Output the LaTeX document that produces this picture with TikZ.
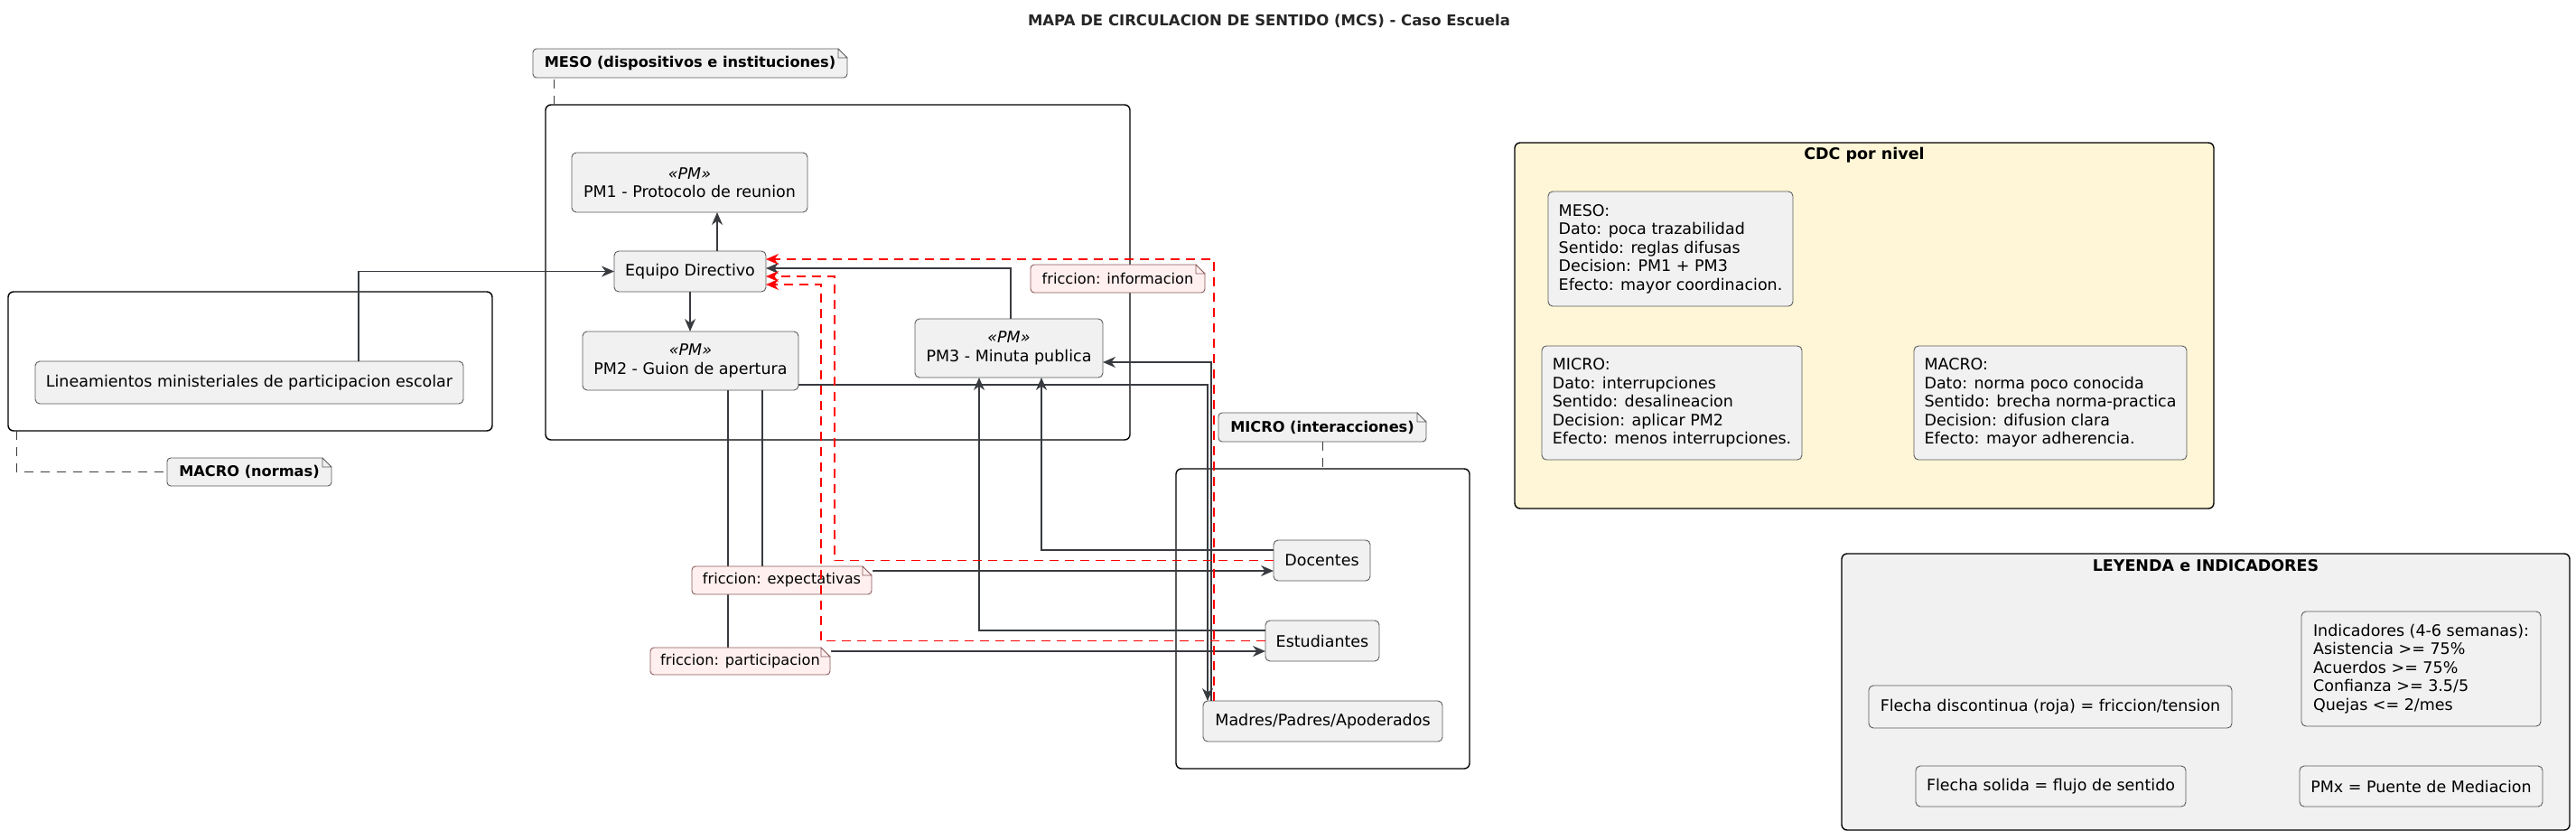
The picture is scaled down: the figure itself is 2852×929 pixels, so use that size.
\documentclass[tikz,border=0pt]{standalone}
\usepackage{fontspec}
\setmainfont{DejaVu Sans}
\usetikzlibrary{arrows.meta}

\definecolor{boxfill}{HTML}{F1F1F1}
\definecolor{boxline}{HTML}{5A5A5A}
\definecolor{flowcol}{HTML}{383B3F}
\definecolor{fricfill}{HTML}{FFEFEF}
\definecolor{fricline}{HTML}{8A5858}
\definecolor{cdcfill}{HTML}{FEF6D6}
\definecolor{titlecol}{HTML}{262626}

\newcommand{\mcsfont}{\fontsize{17.5}{20.5}\selectfont}
\newcommand{\mcsnotefont}{\fontsize{16.2}{19}\selectfont}

\tikzset{
  elem/.style={draw=boxline,fill=boxfill,line width=0.9pt,rounded corners=5pt,
    align=center,font=\mcsfont,outer sep=0pt},
  pkg/.style={draw=black,line width=1.4pt,rounded corners=6pt,outer sep=0pt},
  lvlnote/.style={draw=boxline,fill=boxfill,line width=0.9pt,rounded corners=4pt,
    font=\mcsnotefont\bfseries,outer sep=0pt},
  fricnote/.style={draw=fricline,fill=fricfill,line width=0.9pt,rounded corners=4pt,
    font=\mcsnotefont,outer sep=0pt},
  flow/.style={->,draw=flowcol,line width=1.5pt},
  friction/.style={->,draw=red,line width=1.5pt,dash pattern=on 10pt off 7pt},
  notelink/.style={draw=flowcol,line width=1pt,dash pattern=on 10pt off 8pt},
  grptitle/.style={font=\mcsfont\bfseries}
}

\begin{document}
\begin{tikzpicture}[x=1pt,y=-1pt,>={Stealth[length=14pt,width=12pt,inset=4.5pt]}]
\useasboundingbox (0,0) rectangle (2852,929);

\node[font=\fontsize{16.5}{20}\selectfont\bfseries,text=titlecol] (TITLE) at (1405,23)
  {MAPA DE CIRCULACION DE SENTIDO (MCS) - Caso Escuela};

% niveles
\node[pkg,minimum width=647pt,minimum height=371pt] (PMESO)  at (927.5,301.5) {};
\node[pkg,minimum width=536pt,minimum height=154pt] (PMACRO) at (277,400) {};
\node[pkg,minimum width=325pt,minimum height=332pt] (PMICRO) at (1464.5,685) {};

% CDC y leyenda
\node[pkg,fill=cdcfill,minimum width=774pt,minimum height=405pt] (CDC) at (2064,360.5) {};
\node[grptitle] (CDCT) at (2064,172) {CDC por nivel};
\node[pkg,fill=boxfill,minimum width=806pt,minimum height=306pt] (LEY) at (2442,766) {};
\node[grptitle] (LEYT) at (2442,626) {LEYENDA e INDICADORES};

% elementos
\node[elem,minimum width=261pt,minimum height=66pt] (PM1) at (763.5,202)
  {{\itshape «PM»}\\PM1 - Protocolo de reunion};
\node[elem,minimum width=168pt,minimum height=45pt] (ED)  at (764,300.5) {Equipo Directivo};
\node[elem,minimum width=239pt,minimum height=65pt] (PM2) at (764.5,399.5)
  {{\itshape «PM»}\\PM2 - Guion de apertura};
\node[elem,minimum width=208pt,minimum height=65pt] (PM3) at (1117,385.5)
  {{\itshape «PM»}\\PM3 - Minuta publica};
\node[elem,minimum width=474pt,minimum height=47pt] (LIN) at (276,423.5)
  {Lineamientos ministeriales de participacion escolar};
\node[elem,minimum width=107pt,minimum height=45pt] (DOC) at (1463.5,620.5) {Docentes};
\node[elem,minimum width=126pt,minimum height=45pt] (EST) at (1464,709.5) {Estudiantes};
\node[elem,minimum width=265pt,minimum height=45pt] (MAD) at (1464.5,798.5) {Madres/Padres/Apoderados};

\node[elem,align=left,minimum width=271pt,minimum height=127pt] (CMESO) at (1849.5,275.5)
  {MESO:\\Dato: poca trazabilidad\\Sentido: reglas difusas\\Decision: PM1 + PM3\\Efecto: mayor coordinacion.};
\node[elem,align=left,minimum width=288pt,minimum height=126pt] (CMICRO) at (1851,446)
  {MICRO:\\Dato: interrupciones\\Sentido: desalineacion\\Decision: aplicar PM2\\Efecto: menos interrupciones.};
\node[elem,align=left,minimum width=302pt,minimum height=126pt] (CMACRO) at (2270,446)
  {MACRO:\\Dato: norma poco conocida\\Sentido: brecha norma-practica\\Decision: difusion clara\\Efecto: mayor adherencia.};

\node[elem,minimum width=402pt,minimum height=47pt] (LDASH) at (2270,782.5)
  {Flecha discontinua (roja) = friccion/tension};
\node[elem,align=left,minimum width=265pt,minimum height=127pt] (LIND) at (2680.5,740.5)
  {Indicadores (4-6 semanas):\\Asistencia >= 75\%\\Acuerdos >= 75\%\\Confianza >= 3.5/5\\Quejas <= 2/mes};
\node[elem,minimum width=299pt,minimum height=45pt] (LSOL) at (2270.5,870.5) {Flecha solida = flujo de sentido};
\node[elem,minimum width=269pt,minimum height=45pt] (LPMX) at (2680.5,870.5) {PMx = Puente de Mediacion};

% flujo de sentido
\draw[flow] ([xshift=121pt]LIN.north) |- (ED.west);
\draw[flow] ([xshift=30pt]ED.north) -- ([xshift=30pt]ED.north |- PM1.south);
\draw[flow] (ED.south) -- (ED.south |- PM2.north);
\draw[flow] ([xshift=2pt]PM3.north) |- ([yshift=3.5pt]ED.east);
\draw[flow] ([yshift=-26.5pt]PM2.east) -| ([xshift=-127.5pt]MAD.north);
\draw[flow] ([xshift=-123.5pt]MAD.north) |- ([yshift=-15.5pt]PM3.east);
\draw[flow] ([yshift=11.5pt]DOC.west) -| ([xshift=36pt]PM3.south);
\draw[flow] ([yshift=11.5pt]EST.west) -| ([xshift=-33pt]PM3.south);
\draw[flow] ([xshift=79.5pt]PM2.south) |- ([yshift=-11.5pt]DOC.west);
\draw[flow] ([xshift=41.5pt]PM2.south) |- ([yshift=-11.5pt]EST.west);

% notas
\node[lvlnote,minimum width=348pt,minimum height=32pt] (NMESO)  at (764,70) {MESO (dispositivos e instituciones)};
\node[lvlnote,minimum width=182pt,minimum height=31pt] (NMACRO) at (276,522.5) {MACRO (normas)};
\node[lvlnote,minimum width=230pt,minimum height=32pt] (NMICRO) at (1464,473) {MICRO (interacciones)};
\node[fricnote,minimum width=193pt,minimum height=31pt] (FINF)  at (1237.5,308.5) {friccion: informacion};
\node[fricnote,minimum width=199pt,minimum height=31pt] (FEXP)  at (865.5,642.5) {friccion: expectativas};
\node[fricnote,minimum width=199pt,minimum height=30pt] (FPART) at (819.5,732) {friccion: participacion};

\foreach \n/\col in {NMESO/boxline,NMACRO/boxline,NMICRO/boxline,FINF/fricline,FEXP/fricline,FPART/fricline}{
  \fill[white] ([xshift=-10pt,yshift=1pt]\n.north east) -- ([xshift=1pt,yshift=1pt]\n.north east)
    -- ([xshift=1pt,yshift=-10pt]\n.north east) -- cycle;
  \draw[\col,line width=0.9pt,line join=round] ([xshift=-10pt]\n.north east) -- ([yshift=-10pt]\n.north east)
    -- ([xshift=-10pt,yshift=-10pt]\n.north east) -- cycle;
}

\draw[notelink] ([xshift=9pt]PMESO.north west) -- ([xshift=9pt]PMESO.north west |- NMESO.south);
\draw[notelink] ([xshift=9pt]PMACRO.south west) |- (NMACRO.west);
\draw[notelink] (NMICRO.south) -- (NMICRO.south |- PMICRO.north);

% fricciones
\draw[friction] ([xshift=-120.5pt]MAD.north) |- ([yshift=13.5pt]ED.east);
\draw[friction] (DOC.west) -| ([xshift=76pt,yshift=-5.5pt]ED.east) -- ([yshift=-5.5pt]ED.east);
\draw[friction] (EST.west) -| ([xshift=61pt,yshift=-14.5pt]ED.east) -- ([yshift=-14.5pt]ED.east);
\end{tikzpicture}
\end{document}
